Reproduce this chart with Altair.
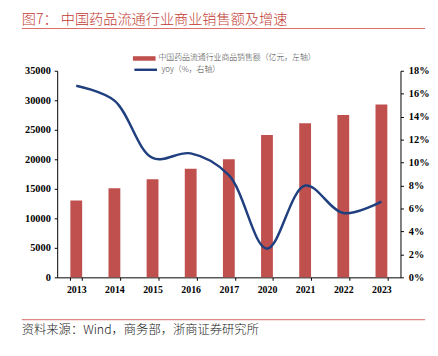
import altair as alt
import pandas as pd

years = ["2013", "2014", "2015", "2016", "2017", "2020", "2021", "2022", "2023"]
sales = [13000, 15100, 16600, 18400, 20000, 24100, 26100, 27500, 29300]
yoy = [16.7, 15.4, 10.4, 10.8, 8.9, 2.5, 8.0, 5.6, 6.6]
left_ticks = [0, 5000, 10000, 15000, 20000, 25000, 30000, 35000]
right_ticks = [0, 2, 4, 6, 8, 10, 12, 14, 16, 18]
sales_label = "中国药品流通行业商品销售额（亿元，左轴）"
yoy_label = "yoy（%，右轴）"
title_text = "图7：  中国药品流通行业商业销售额及增速"
source_text = "资料来源：Wind，商务部，浙商证券研究所"

BAR = "#c0504d"
LINE = "#1f3f7f"
RED = "#c23a33"
AXFONT = "Liberation Serif"
CJK = "Noto Sans CJK SC"

df = pd.DataFrame({"year": years, "sales": sales, "yoy": yoy,
                   "s1": sales_label, "s2": yoy_label})
deco = pd.DataFrame({"title": [title_text], "source": [source_text]})

xenc = alt.X("year:N", sort=years,
             scale=alt.Scale(paddingInner=0.69, paddingOuter=0.345),
             axis=alt.Axis(title=None, tickBand="extent", labelAngle=0,
                           labelFont=AXFONT, labelFontWeight="bold",
                           labelFontSize=10, labelColor="black",
                           domainColor="black", tickColor="black",
                           tickSize=3, labelPadding=4))

bars = alt.Chart(df).mark_bar().encode(
    x=xenc,
    y=alt.Y("sales:Q", scale=alt.Scale(domain=[0, 35000], nice=False),
            axis=alt.Axis(title=None, values=left_ticks, orient="left", format="d",
                          labelFont=AXFONT, labelFontWeight="bold",
                          labelFontSize=10.5, labelColor="black",
                          domainColor="black", tickColor="black",
                          tickSize=3, labelPadding=4, grid=False)),
    fill=alt.Fill("s1:N", scale=alt.Scale(range=[BAR]),
                  legend=alt.Legend(title=None, orient="none", legendX=77, legendY=-24,
                                    symbolType="M-1,-0.2H1V0.2H-1Z", symbolSize=529,
                                    symbolStrokeWidth=0, labelFont=CJK, labelFontSize=8,
                                    labelFontWeight=300,
                                    labelColor="#444", padding=0, labelOffset=3)),
)

line = alt.Chart(df).mark_line(interpolate="catmull-rom", strokeWidth=2.5).encode(
    x=xenc,
    y=alt.Y("yoy:Q", scale=alt.Scale(domain=[0, 18], nice=False),
            axis=alt.Axis(title=None, values=right_ticks, orient="right",
                          labelExpr="datum.value + '%'",
                          labelFont=AXFONT, labelFontWeight="bold",
                          labelFontSize=10.5, labelColor="black",
                          domainColor="black", tickColor="black",
                          tickSize=3, labelPadding=5, grid=False)),
    stroke=alt.Stroke("s2:N", scale=alt.Scale(range=[LINE]),
                      legend=alt.Legend(title=None, orient="none", legendX=77, legendY=-14,
                                        symbolType="stroke", symbolSize=529,
                                        symbolStrokeWidth=2.5, labelFont=CJK, labelFontSize=8,
                                        labelFontWeight=300,
                                        labelColor="#444", padding=0, labelOffset=3)),
)

title = alt.Chart(deco).mark_text(align="left", baseline="middle", font=CJK,
                                  fontSize=14.4, fontWeight=300, color=RED).encode(
    x=alt.value(-36), y=alt.value(-52), text="title:N")
title_rule = alt.Chart(deco).mark_rule(color="#d9706b", strokeWidth=1.2).encode(
    x=alt.value(-36), x2=alt.value(374), y=alt.value(-43))
source = alt.Chart(deco).mark_text(align="left", baseline="middle", font=CJK,
                                   fontSize=12.5, fontWeight=300, color="#222").encode(
    x=alt.value(-36), y=alt.value(264), text="source:N")
source_rule = alt.Chart(deco).mark_rule(color="#e08a86", strokeWidth=1.2).encode(
    x=alt.value(-36), x2=alt.value(374), y=alt.value(253))

chart = alt.layer(bars, line, title, title_rule, source, source_rule).resolve_scale(
    y="independent"
).properties(
    width=349, height=210,
    autosize=alt.AutoSizeParams(type="none"),
    padding={"left": 50, "top": 61, "right": 30, "bottom": 68},
).configure_view(stroke=None)

chart.save("out.html", embed_options={"renderer": "svg", "actions": False})
